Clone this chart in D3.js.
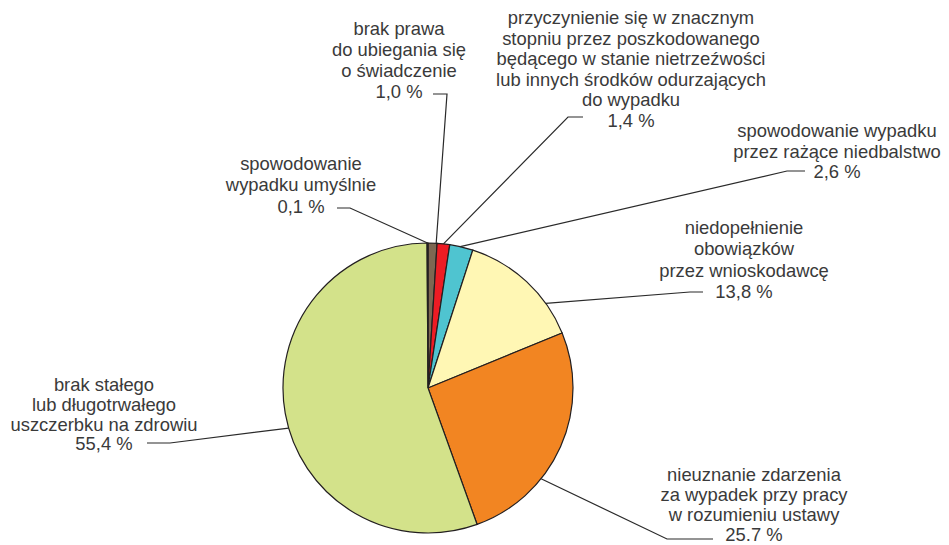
<!DOCTYPE html>
<html>
<head>
<meta charset="utf-8">
<title>Pie</title>
<style>
    body{ margin:0; background:#fff; }
    .lbl{ font-family:"Liberation Sans", Arial, sans-serif; font-size:18.4px; fill:#3a3a3a; }
    .slice{ stroke:#231f20; stroke-width:1.2; }
    .leader{ fill:none; stroke:#2a2a2a; stroke-width:1.2; }
</style>
</head>
<body>
<script src="https://cdn.jsdelivr.net/npm/d3@7/dist/d3.min.js"></script>
<script>
var width = 949, height = 545;

// data, clockwise from 12 o'clock
var labels = [
    ["brak prawa", "do ubiegania się", "o świadczenie", "1,0 %"],
    ["przyczynienie się w znacznym", "stopniu przez poszkodowanego", "będącego w stanie nietrzeźwości", "lub innych środków odurzających", "do wypadku", "1,4 %"],
    ["spowodowanie wypadku", "przez rażące niedbalstwo", "2,6 %"],
    ["niedopełnienie", "obowiązków", "przez wnioskodawcę", "13,8 %"],
    ["nieuznanie zdarzenia", "za wypadek przy pracy", "w rozumieniu ustawy", "25.7 %"],
    ["brak stałego", "lub długotrwałego", "uszczerbku na zdrowiu", "55,4 %"],
    ["spowodowanie", "wypadku umyślnie", "0,1 %"]
];
var values = [1.0, 1.4, 2.6, 13.8, 25.7, 55.4, 0.1];
var colors = ["#7d6752", "#ed1c24", "#4fc4d0", "#fff7b4", "#f28522", "#d3e28a", "#8a7560"];

// label layout: text centre x, first baseline y, elbow, end of horizontal, where on the rim (fraction of slice)
var layout = [
    {tx:399, ty:35,  ex:447, ey:94,  hx:433, rim:0.9},
    {tx:631, ty:24,  ex:568, ey:117, hx:583, rim:0.5},
    {tx:837, ty:137, ex:787, ey:171, hx:805, rim:0.45},
    {tx:744, ty:234, ex:690, ey:292, hx:703, rim:0.73},
    {tx:754, ty:481, ex:667, ey:539, hx:713, rim:0.66},
    {tx:104, ty:391, ex:170, ey:443, hx:147, rim:0.47},
    {tx:301, ty:170, ex:350, ey:208, hx:337, rim:0.5}
];
var lineH = [21, 20.6, 20.5, 21.3, 20, 19.8, 21.3];

var cx = 428, cy = 388, r = 145;

var svg = d3.select("body").append("svg")
    .attr("width", width)
    .attr("height", height);

var pie = d3.pie().sort(null).value(function(d){ return d; });
var arcs = pie(values);
var arc = d3.arc().innerRadius(0).outerRadius(r);

var g = svg.append("g").attr("transform", "translate(" + cx + "," + cy + ")");
g.selectAll("path.slice")
    .data(arcs)
    .enter().append("path")
    .attr("class", "slice")
    .attr("d", arc)
    .attr("fill", function(d, i){ return colors[i]; });

// leaders
arcs.forEach(function(a, i){
    var L = layout[i];
    var ang = a.startAngle + (a.endAngle - a.startAngle) * L.rim;
    var px = cx + r * Math.sin(ang), py = cy - r * Math.cos(ang);
    svg.append("polyline")
        .attr("class", "leader")
        .attr("points", [[px, py], [L.ex, L.ey], [L.hx, L.ey]].map(function(p){ return p.join(","); }).join(" "));
});

// labels
labels.forEach(function(lines, i){
    var L = layout[i];
    var t = svg.append("text")
        .attr("class", "lbl")
        .attr("text-anchor", "middle");
    lines.forEach(function(s, k){
        t.append("tspan")
            .attr("x", L.tx)
            .attr("y", L.ty + k * lineH[i])
            .text(s);
    });
});
</script>
</body>
</html>
